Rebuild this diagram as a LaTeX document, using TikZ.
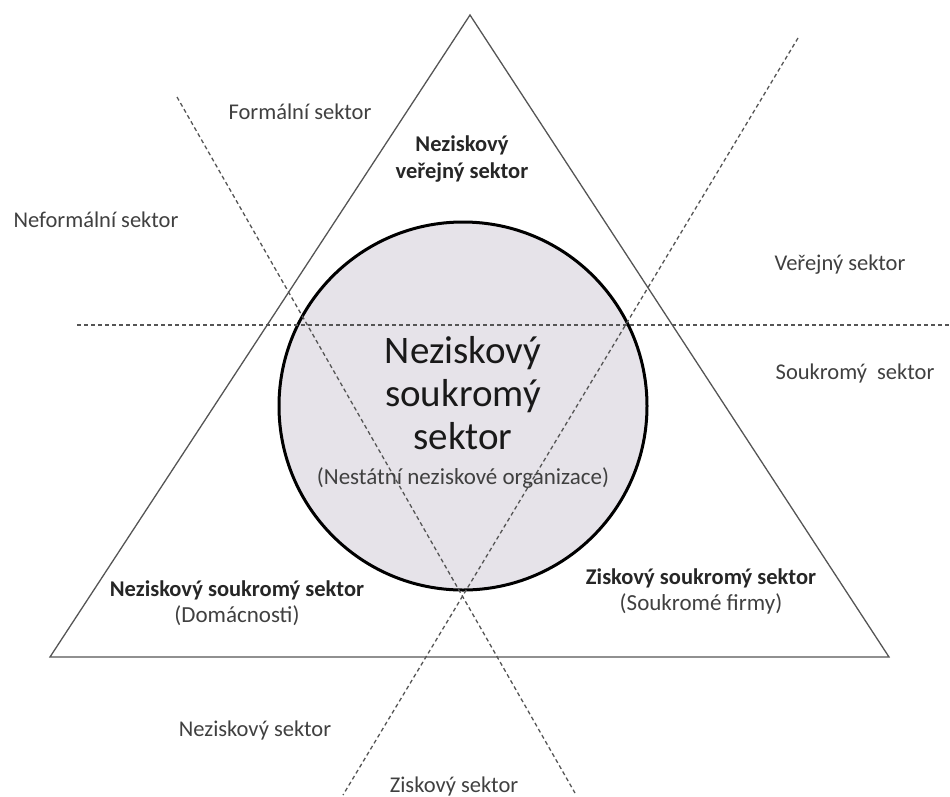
\documentclass[tikz,border=0pt]{standalone}
\usepackage{fontspec}
\setmainfont{Carlito}
\usetikzlibrary{positioning}
\definecolor{txtgray}{HTML}{404040}
\definecolor{linegray}{HTML}{555555}
\definecolor{discfill}{HTML}{E6E3E9}
\tikzset{
  sectorlabel/.style={text=txtgray, font=\fontsize{22.5}{26}\selectfont, inner sep=0pt},
  boldlabel/.style={text=black!85, font=\fontsize{22.5}{27}\selectfont\bfseries, align=center, inner sep=0pt},
  sublabel/.style={text=txtgray, font=\fontsize{23}{26}\selectfont, inner sep=0pt},
  divider/.style={draw=linegray, line width=1.3pt, dash pattern=on 4pt off 3pt},
}
\begin{document}
\begin{tikzpicture}[x=1pt,y=-1pt]
			\useasboundingbox (0,0) rectangle (950,796);
			% triangle
			\coordinate (apex) at (470,15);
			\coordinate (bl) at (50,657);
			\coordinate (br) at (889,657);
			\draw [linegray, line width=1.3pt] (apex) -- (br) -- (bl) -- cycle;
			% circle
			\node (disc) [circle, draw=black, line width=3pt, fill=discfill, minimum size=368pt, inner sep=0pt] at (463,406) {};
			% dashed dividers
			\coordinate (hl) at (77,325);
			\coordinate (hr) at (950,325);
			\coordinate (da) at (177,97);
			\coordinate (db) at (575,793);
			\coordinate (dc) at (798,38);
			\coordinate (dd) at (343,795);
			\draw [divider] (hl) -- (hr);
			\draw [divider] (da) -- (db);
			\draw [divider] (dc) -- (dd);
			% labels outside
			\node (formal) [sectorlabel] at (300,112) {Formální sektor};
			\node (informal) [sectorlabel] at (96,220) {Neformální sektor};
			\node (public) [sectorlabel] at (840,265) {Veřejný sektor};
			\node (private) [sectorlabel] at (855,373) {Soukromý\ \ sektor};
			\node (nonprofit) [sectorlabel] at (255,730) {Neziskový sektor};
			\node (profit) [sectorlabel] at (454,786) {Ziskový sektor};
			% labels inside the triangle
			\node (pubnp) [boldlabel] at (462,159) {Neziskový\\veřejný sektor};
			\node (homes) [boldlabel] at (237,590) {Neziskový soukromý sektor};
			\node (homessub) [sublabel, below=6pt of homes] {(Domácnosti)};
			\node (firms) [boldlabel] at (701,578) {Ziskový soukromý sektor};
			\node (firmssub) [sublabel, below=6pt of firms] {(Soukromé firmy)};
			% circle text
			\node (ngo) [text=black!90, font=\fontsize{39}{43}\selectfont, align=center, inner sep=0pt] at (463,393) {Neziskový\\soukromý\\sektor};
			\node (ngosub) [sublabel, below=18pt of ngo] {(Nestátní neziskové organizace)};
		\end{tikzpicture}
\end{document}
